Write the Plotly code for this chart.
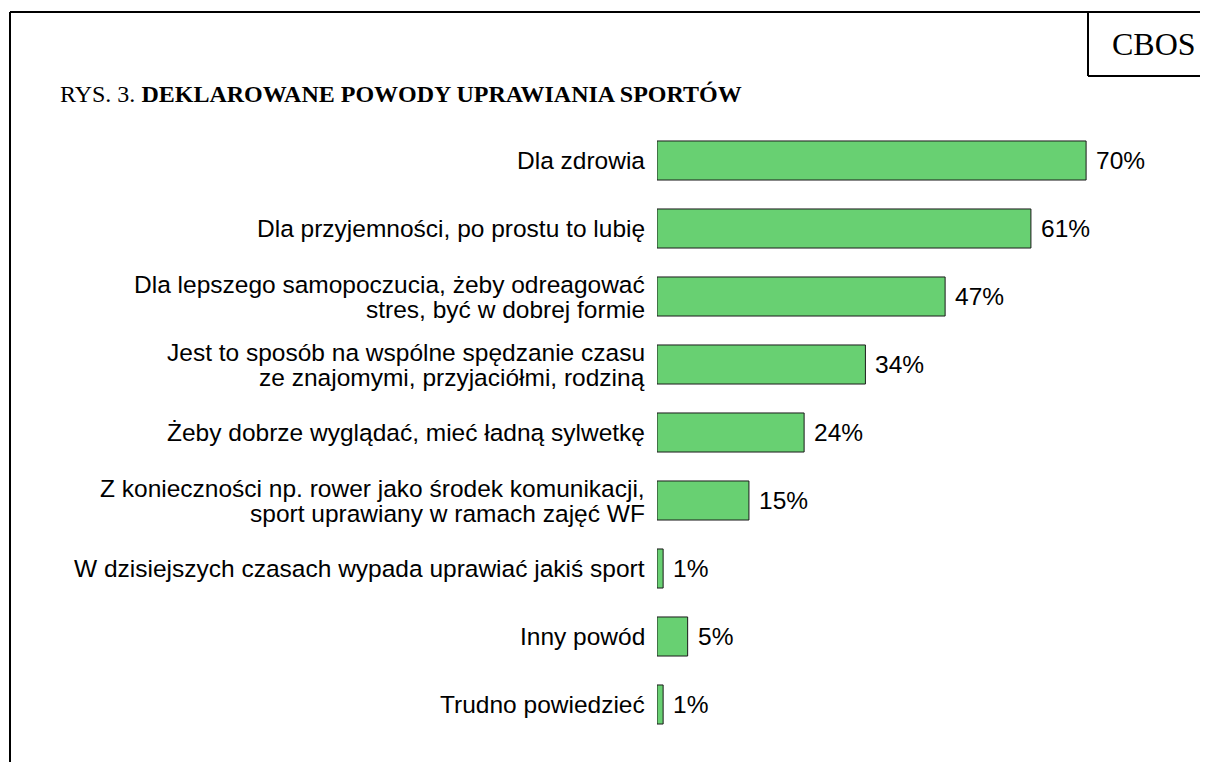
import plotly.graph_objects as go

categories = [
    "Dla zdrowia",
    "Dla przyjemności, po prostu to lubię",
    "Dla lepszego samopoczucia, żeby odreagować<br>stres, być w dobrej formie",
    "Jest to sposób na wspólne spędzanie czasu<br>ze znajomymi, przyjaciółmi, rodziną",
    "Żeby dobrze wyglądać, mieć ładną sylwetkę",
    "Z konieczności np. rower jako środek komunikacji,<br>sport uprawiany w ramach zajęć WF",
    "W dzisiejszych czasach wypada uprawiać jakiś sport",
    "Inny powód",
    "Trudno powiedzieć",
]
values = [70, 61, 47, 34, 24, 15, 1, 5, 1]
title_prefix = "RYS. 3. "
title_bold = "DEKLAROWANE POWODY UPRAWIANIA SPORTÓW"
logo = "CBOS"

# the page body adds an 8px margin, so the figure is 8px smaller and
# positions below are page positions minus 8
OFF = 8
W, H = 1208 - OFF, 762 - OFF
x0_px = 657 - OFF
px_per_unit = 6.13
y_top_px, y_bot_px = 126.5 - OFF, 738.5 - OFF

ids = list(range(len(categories)))

fig = go.Figure()
fig.add_trace(go.Bar(
    x=values, y=ids, orientation="h",
    marker=dict(color="#68D072", line=dict(color="#1a1a1a", width=1)),
    hoverinfo="skip",
))

annotations = []
label_font = dict(family="Liberation Sans, Arial, sans-serif", size=24.5, color="black")
for i, (cat, v) in enumerate(zip(categories, values)):
    lines = cat.split("<br>")
    n = len(lines)
    spacing = 25
    for j, line in enumerate(lines):
        shift = (n - 1) / 2 * spacing - j * spacing
        annotations.append(dict(
            x=0, y=i, xref="x", yref="y", text=line, showarrow=False,
            xanchor="right", yanchor="middle", xshift=-10, yshift=shift,
            font=label_font,
        ))
    annotations.append(dict(
        x=v, y=i, xref="x", yref="y", text=f"{v}%", showarrow=False,
        xanchor="left", yanchor="middle", xshift=8, yshift=0,
        font=label_font,
    ))

annotations.append(dict(
    x=(58 - OFF) / W, y=1 - (94 - OFF) / H, xref="paper", yref="paper",
    text=f"{title_prefix}<b>{title_bold}</b>", showarrow=False,
    xanchor="left", yanchor="middle",
    font=dict(family="Liberation Serif, Times New Roman, serif", size=24, color="black"),
))
annotations.append(dict(
    x=(1153.5 - OFF) / W, y=1 - (44 - OFF) / H, xref="paper", yref="paper",
    text=logo, showarrow=False, xanchor="center", yanchor="middle",
    font=dict(family="Liberation Serif, Times New Roman, serif", size=32, color="black"),
))

top_y = 1 - (12 - OFF) / H
left_x = (10 - OFF) / W
box_x = (1088 - OFF) / W
box_y = 1 - (76 - OFF) / H
shapes = [
    dict(type="line", xref="paper", yref="paper", x0=left_x, x1=1.01, y0=top_y, y1=top_y,
         line=dict(color="black", width=2)),
    dict(type="line", xref="paper", yref="paper", x0=left_x, x1=left_x, y0=top_y, y1=-0.01,
         line=dict(color="black", width=2)),
    dict(type="line", xref="paper", yref="paper", x0=box_x, x1=box_x, y0=top_y, y1=box_y,
         line=dict(color="black", width=2)),
    dict(type="line", xref="paper", yref="paper", x0=box_x, x1=1.01, y0=box_y, y1=box_y,
         line=dict(color="black", width=2)),
]

fig.update_layout(
    width=W, height=H, autosize=False,
    margin=dict(l=0, r=0, t=0, b=0, pad=0),
    paper_bgcolor="white", plot_bgcolor="white",
    showlegend=False, bargap=0.426,
    xaxis=dict(domain=[x0_px / W, 1], range=[0, (W - x0_px) / px_per_unit],
               showgrid=False, zeroline=False, showticklabels=False, ticks="", showline=False),
    yaxis=dict(domain=[1 - y_bot_px / H, 1 - y_top_px / H], range=[len(categories) - 0.5, -0.5],
               showgrid=False, zeroline=False, showticklabels=False, ticks="", showline=False),
    annotations=annotations, shapes=shapes,
)

fig.write_html("out.html", config={"displayModeBar": False})
